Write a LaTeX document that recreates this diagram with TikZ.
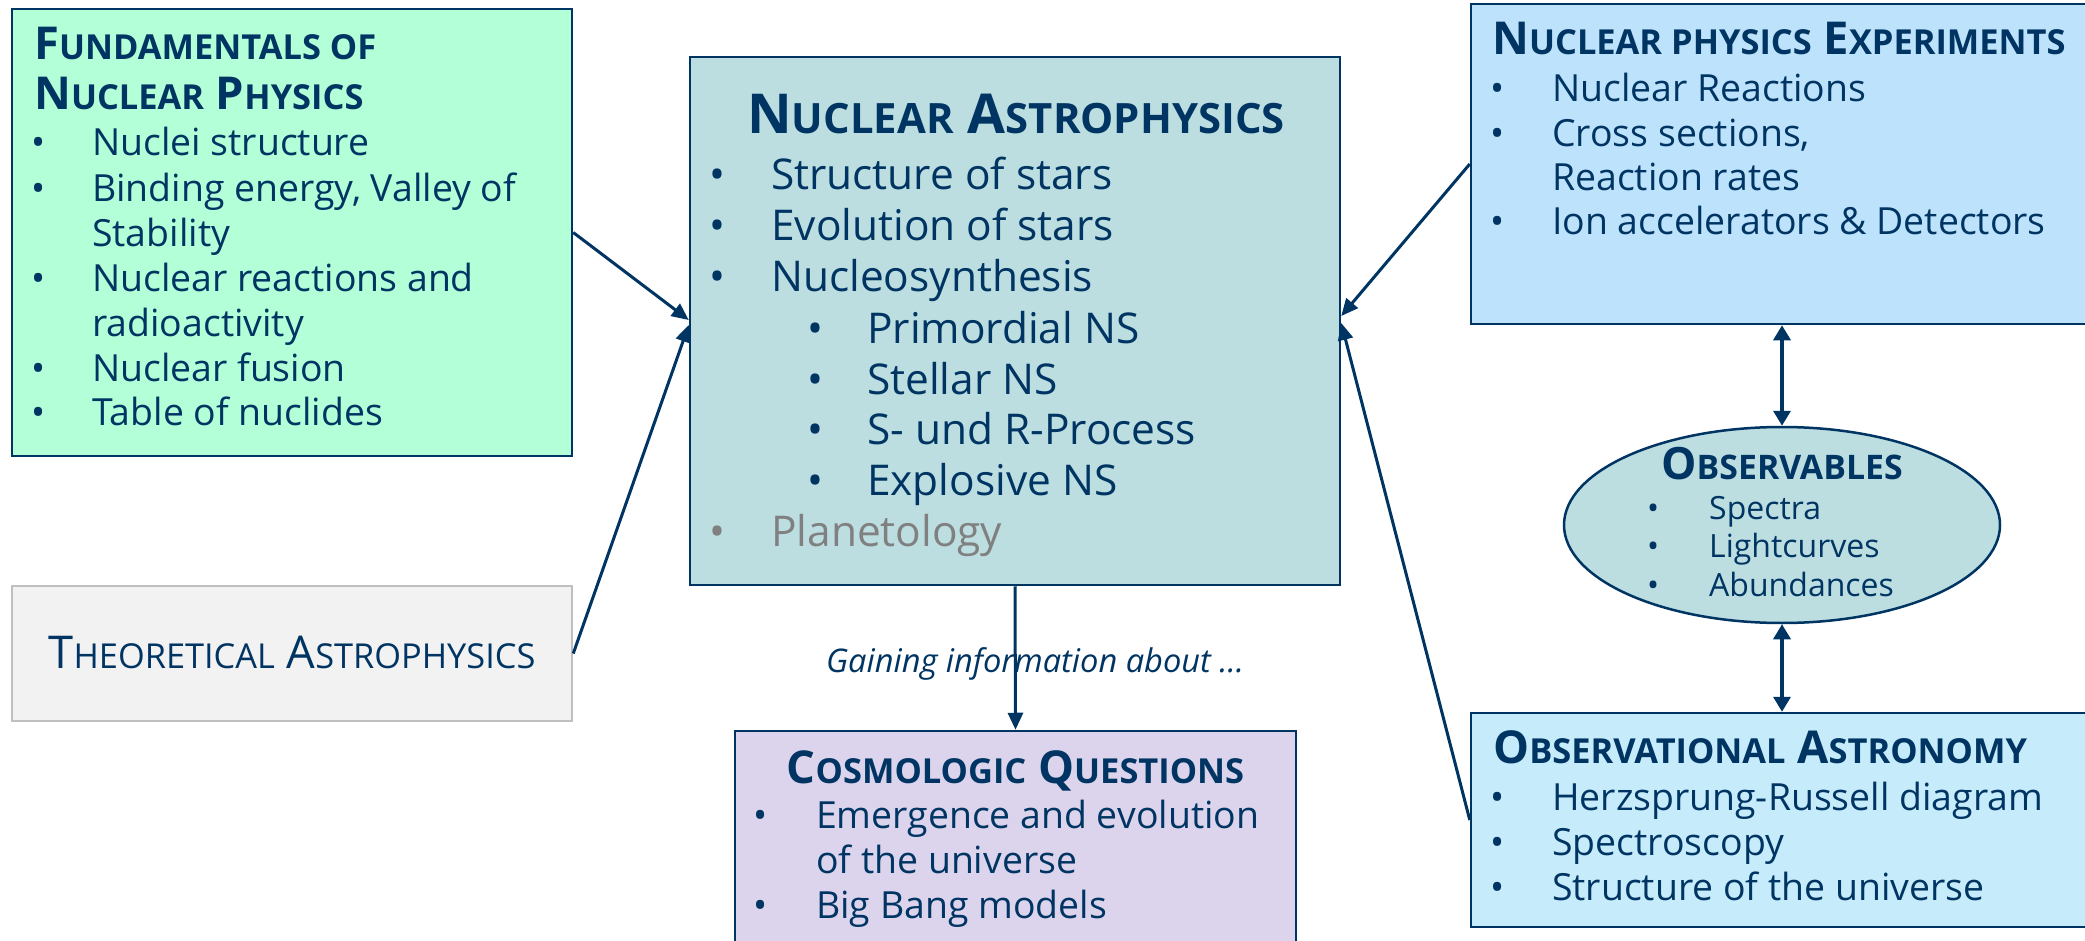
\documentclass[tikz,border=0pt]{standalone}
\usepackage{fontspec}
\setmainfont{Open Sans}
\usetikzlibrary{arrows.meta,shapes.geometric}
\definecolor{navy}{HTML}{003462}
\definecolor{fundc}{HTML}{B2FFD8}
\definecolor{nac}{HTML}{BCDEE1}
\definecolor{npec}{HTML}{BDE3FC}
\definecolor{oac}{HTML}{C6EBFB}
\definecolor{cosc}{HTML}{DCD4EC}
\definecolor{theoc}{HTML}{F2F2F2}
\definecolor{theob}{HTML}{BFBFBF}
\definecolor{planc}{HTML}{808080}
\newdimen\scdim
\newcommand\smc[1]{{\scdim=\csname f@size\endcsname pt\scdim=0.76\scdim\fontsize{\scdim}{\baselineskip}\selectfont #1}}
\newcommand\bl[2]{\makebox[0pt][r]{\makebox[0pt][c]{\textbullet}\hspace{#1}}#2}
\tikzset{
  box/.style={draw=navy, line width=2.5pt, inner sep=0pt},
  txt/.style={anchor=base west, inner sep=0pt, text=navy, font=\fontsize{37.4}{40}\selectfont},
  natxt/.style={txt, font=\fontsize{42.4}{45}\selectfont},
  obstxt/.style={txt, font=\fontsize{32}{35}\selectfont},
  ttl/.style={anchor=base west, inner sep=0pt, text=navy, font=\fontsize{45.3}{48}\selectfont\bfseries},
  conn/.style={draw=navy, line width=3pt, -{Triangle[length=17pt,width=15pt]}},
  dconn/.style={draw=navy, line width=3.5pt, {Triangle[length=15pt,width=17pt]}-{Triangle[length=15pt,width=17pt]}}
}
\begin{document}
\begin{tikzpicture}[x=1pt,y=-1pt]
\useasboundingbox (0,0) rectangle (2085,941);
\clip (0,0) rectangle (2085,941);
% boxes
\node[box, fill=fundc, minimum width=560pt, minimum height=447pt] (fund) at (292,232.5) {};
\node[draw=theob, line width=2.5pt, inner sep=0pt, fill=theoc, minimum width=560pt, minimum height=135pt] (theo) at (292,653.5) {};
\node[box, fill=nac, minimum width=650pt, minimum height=528pt] (na) at (1015,321) {};
\node[box, fill=npec, minimum width=622pt, minimum height=320pt] (npe) at (1782,164) {};
\node[box, fill=oac, minimum width=622pt, minimum height=214pt] (oa) at (1782,820) {};
\node[box, fill=cosc, minimum width=561pt, minimum height=239pt] (cos) at (1015.5,850.5) {};
\node[ellipse, draw=navy, line width=2.5pt, inner sep=0pt, fill=nac, minimum width=436pt, minimum height=196pt] (obs) at (1782,525) {};
% fundamentals
\node[ttl] (f0) at (34,60) {F\smc{UNDAMENTALS OF}};
\node[ttl] (f00) at (34,110) {N\smc{UCLEAR} P\smc{HYSICS}};
\node[txt] (f1) at (92,156) {\bl{54pt}{Nuclei structure}};
\node[txt] (f2) at (92,202) {\bl{54pt}{Binding energy, Valley of}};
\node[txt] (f3) at (92,247) {Stability};
\node[txt] (f4) at (92,292) {\bl{54pt}{Nuclear reactions and}};
\node[txt] (f5) at (92,336) {radioactivity};
\node[txt] (f6) at (92,381) {\bl{54pt}{Nuclear fusion}};
\node[txt] (f7) at (92,425) {\bl{54pt}{Table of nuclides}};
% theoretical
\node[anchor=base, inner sep=0pt, text=navy, font=\fontsize{45.2}{48}\selectfont] (t0) at (292,668) {T\smc{HEORETICAL} A\smc{STROPHYSICS}};
% nuclear astrophysics
\node[ttl, anchor=base, font=\fontsize{55}{58}\selectfont\bfseries] (n0) at (1016,134) {N\smc{UCLEAR} A\smc{STROPHYSICS}};
\node[natxt] (n1) at (771,190) {\bl{54pt}{Structure of stars}};
\node[natxt] (n2) at (771,241) {\bl{54pt}{Evolution of stars}};
\node[natxt] (n3) at (771,292) {\bl{54pt}{Nucleosynthesis}};
\node[natxt] (n4) at (867,343) {\bl{52pt}{Primordial NS}};
\node[natxt] (n5) at (867,394) {\bl{52pt}{Stellar NS}};
\node[natxt] (n6) at (867,444.5) {\bl{52pt}{S- und R-Process}};
\node[natxt] (n7) at (867,495.5) {\bl{52pt}{Explosive NS}};
\node[natxt, text=planc] (n8) at (771,546.5) {\bl{54pt}{Planetology}};
% nuclear physics experiments
\node[ttl] (e0) at (1492,55) {N\smc{UCLEAR PHYSICS} E\smc{XPERIMENTS}};
\node[txt] (e1) at (1552,102) {\bl{55pt}{Nuclear Reactions}};
\node[txt] (e2) at (1552,147) {\bl{55pt}{Cross sections,}};
\node[txt] (e3) at (1552,191) {Reaction rates};
\node[txt] (e4) at (1552,235) {\bl{55pt}{Ion accelerators \& Detectors}};
% observables
\node[ttl, anchor=base, font=\fontsize{44.5}{48}\selectfont\bfseries] (o0) at (1782,479) {O\smc{BSERVABLES}};
\node[obstxt] (o1) at (1709,519) {\bl{56pt}{Spectra}};
\node[obstxt] (o2) at (1709,557) {\bl{56pt}{Lightcurves}};
\node[obstxt] (o3) at (1709,596) {\bl{56pt}{Abundances}};
% observational astronomy
\node[ttl] (a0) at (1493,763) {O\smc{BSERVATIONAL} A\smc{STRONOMY}};
\node[txt] (a1) at (1552,810) {\bl{55pt}{Herzsprung-Russell diagram}};
\node[txt] (a2) at (1552,855) {\bl{55pt}{Spectroscopy}};
\node[txt] (a3) at (1552,900) {\bl{55pt}{Structure of the universe}};
% cosmologic questions
\node[ttl, anchor=base] (c0) at (1015.5,783) {C\smc{OSMOLOGIC} Q\smc{UESTIONS}};
\node[txt] (c1) at (816,828) {\bl{56pt}{Emergence and evolution}};
\node[txt] (c2) at (816,873) {of the universe};
\node[txt] (c3) at (816,918) {\bl{56pt}{Big Bang models}};
% label
\node[anchor=base, inner sep=0pt, text=navy, font=\fontsize{32.6}{36}\selectfont\itshape] (lab) at (1035,672) {Gaining information about ...};
% connectors
\draw[conn] (fund.east) -- ([yshift=1pt]na.west);
\draw[conn] (theo.east) -- ([yshift=-4pt]na.west);
\draw[conn] (npe.west) -- ([yshift=5pt]na.east);
\draw[conn] (oa.west) -- ([yshift=-2pt]na.east);
\draw[conn] (na.south) -- (cos.north);
\draw[dconn] (npe.south) -- (obs.north);
\draw[dconn] (obs.south) -- (oa.north);
\end{tikzpicture}
\end{document}
